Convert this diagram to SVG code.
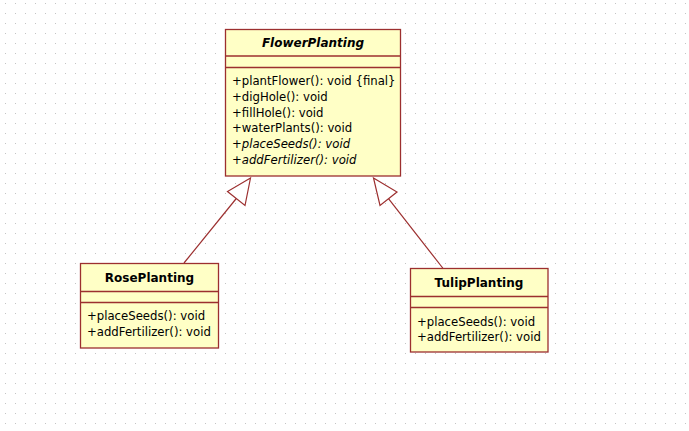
<svg xmlns="http://www.w3.org/2000/svg" width="689" height="431" viewBox="0 0 689 431">
<defs>
<pattern id="grid" x="0" y="0" width="10" height="10" patternUnits="userSpaceOnUse">
<rect x="5" y="3" width="1" height="1" fill="#c4c4c4"/>
</pattern>
<style>
.box{fill:#ffffc6;stroke:#9c2f2f;stroke-width:1.3}
.div{stroke:#9c2f2f;stroke-width:1.3}
.name{font-family:"DejaVu Sans",sans-serif;font-size:12px;font-weight:bold;fill:#000;text-anchor:middle}
.op{font-family:"DejaVu Sans",sans-serif;font-size:11.7px;fill:#000}
.ab{font-style:italic}
.edge{stroke:#9c2f2f;stroke-width:1.2;fill:none}
.head{stroke:#9c2f2f;stroke-width:1.2;fill:#ffffff}
</style>
</defs>
<rect width="689" height="431" fill="#ffffff"/>
<rect width="689" height="431" fill="url(#grid)"/>
<g id="connectors">
<line class="edge" x1="184" y1="263" x2="236.3" y2="198.5"/>
<polygon class="head" points="250.5,178 227.5,191.5 245,205.5"/>
<line class="edge" x1="443.5" y1="269" x2="388.5" y2="198.7"/>
<polygon class="head" points="373.5,178 397,192 380,205.5"/>
</g>
<g id="FlowerPlanting">
<rect class="box" x="225.5" y="29.5" width="175" height="146.5"/>
<line class="div" x1="225.5" y1="56" x2="400.5" y2="56"/>
<line class="div" x1="225.5" y1="67.5" x2="400.5" y2="67.5"/>
<text class="name ab" x="313" y="47">FlowerPlanting</text>
<text class="op" x="232" y="85">+plantFlower(): void {final}</text>
<text class="op" x="232" y="101">+digHole(): void</text>
<text class="op" x="232" y="116.5">+fillHole(): void</text>
<text class="op" x="232" y="132">+waterPlants(): void</text>
<text class="op ab" x="232" y="148">+placeSeeds(): void</text>
<text class="op ab" x="232" y="164">+addFertilizer(): void</text>
</g>
<g id="RosePlanting">
<rect class="box" x="80.5" y="263.5" width="138" height="84.5"/>
<line class="div" x1="80.5" y1="291.5" x2="218.5" y2="291.5"/>
<line class="div" x1="80.5" y1="302.5" x2="218.5" y2="302.5"/>
<text class="name" x="149.5" y="281.5">RosePlanting</text>
<text class="op" x="87" y="320">+placeSeeds(): void</text>
<text class="op" x="87" y="336">+addFertilizer(): void</text>
</g>
<g id="TulipPlanting">
<rect class="box" x="410.5" y="268.5" width="137.5" height="83.5"/>
<line class="div" x1="410.5" y1="296.5" x2="548" y2="296.5"/>
<line class="div" x1="410.5" y1="307.5" x2="548" y2="307.5"/>
<text class="name" x="479" y="287">TulipPlanting</text>
<text class="op" x="417" y="325.5">+placeSeeds(): void</text>
<text class="op" x="417" y="341">+addFertilizer(): void</text>
</g>
</svg>
